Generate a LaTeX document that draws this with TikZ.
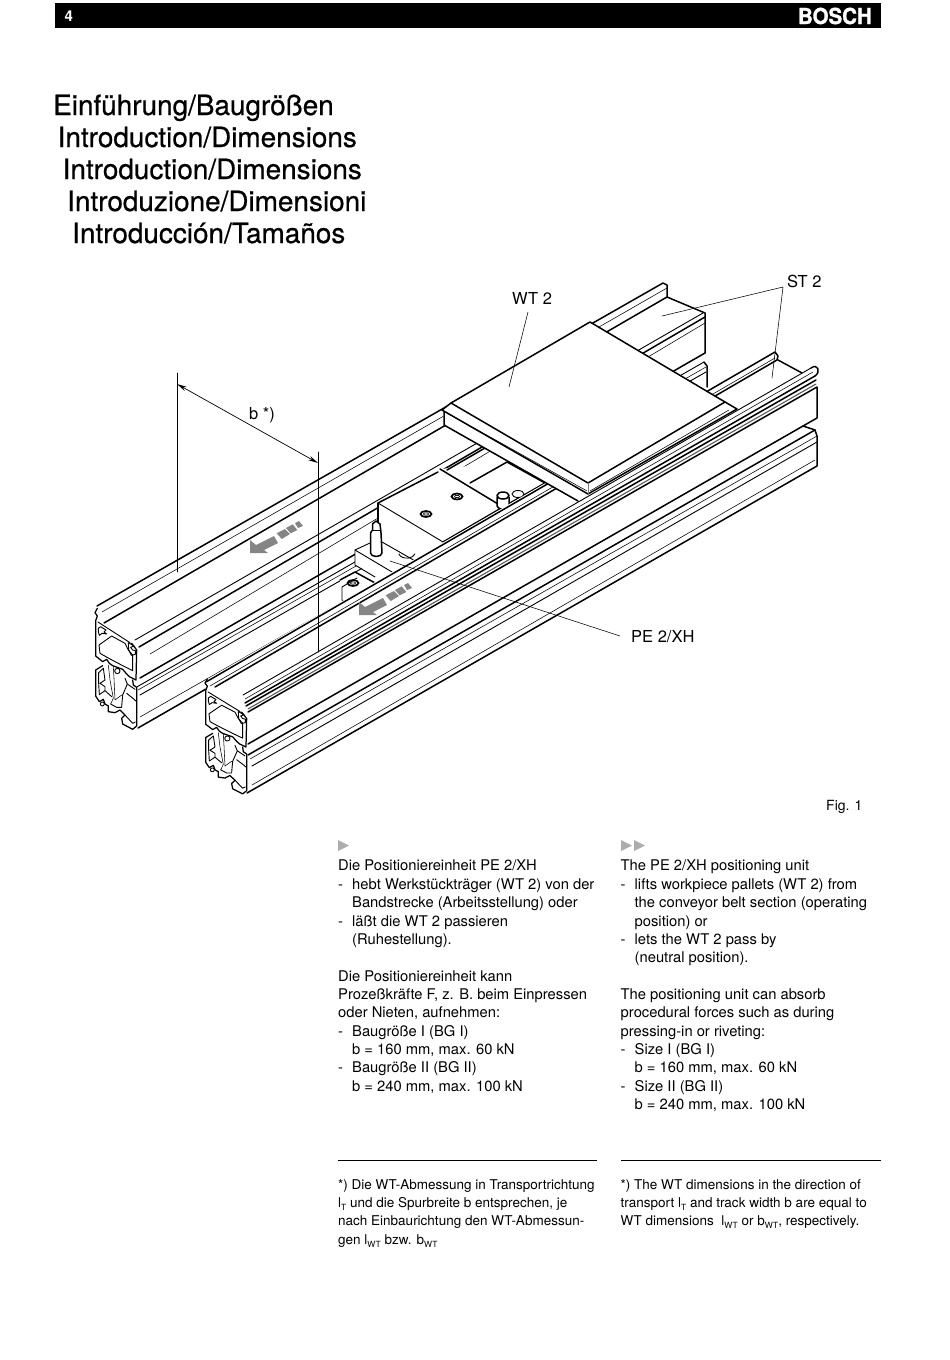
\documentclass[tikz,border=0pt]{standalone}
\usepackage{fontspec}
\usetikzlibrary{arrows.meta}
\setmainfont{TeX Gyre Heros}
\newfontfamily\titlefont[FakeBold=0.6]{TeX Gyre Heros}
\newfontfamily\brandfont[FakeBold=1.4,FakeStretch=0.93]{TeX Gyre Heros Bold}
\newcommand\bodyfont{\fontsize{14.75}{18.35}\selectfont}
\newcommand\notefont{\fontsize{13.5}{18.35}\selectfont}
\newcommand\ttl{\titlefont\fontsize{27.9}{32}\selectfont}
\newcommand\lab{\fontsize{16.5}{20}\selectfont}
\newcommand\dsh{\makebox[14pt][l]{-}}
\newcommand\ind{\hspace*{14pt}}
\newcommand\sbs[1]{\raisebox{-3pt}{\fontsize{8.5}{9}\selectfont #1}}
\tikzset{
 thick line/.style={line width=1.5pt,line join=round,line cap=round},
 prof line/.style={line width=1.25pt,line join=round,line cap=round},
 med line/.style={line width=0.9pt,line join=round,line cap=round},
 thin line/.style={line width=0.55pt,line join=round,line cap=round},
 textblock/.style={inner sep=0pt,anchor=north west,align=left,font=\bodyfont},
 noteblock/.style={inner sep=0pt,anchor=north west,align=left,font=\notefont},
 labelnode/.style={inner sep=0pt,anchor=base west,font=\lab},
 titlenode/.style={inner sep=0pt,anchor=base west,font=\ttl},
}
\newcommand\profile{%
 % upper block
 \fill[white] (17,30)--(17,168)--(38,185)--(140,242)--(140,145)--(28,62)--cycle;
 \fill[white] (17,210)--(17,290)--(98,372)--(128,388)--(140,378)--(140,240)--(40,190)--cycle;
 \draw[prof line] (22,25)--(15,38)--(22,48)--(17,62)--(17,168)--(38,185)--(50,178)--(58,190)--(68,197)--(98,208)--(110,222)--(118,230)--(138,240)--(140,150)--(125,130);
 \draw[med line] (24,66)--(120,128);
 \draw[med line] (25,85)--(32,80)--(48,90)--(42,96)--(50,102)--(36,100)--(28,106)--(25,95)--cycle;
 \draw[med line] (115,128)--(132,138)--(122,142)--(128,150)--(136,152)--(136,163)--(124,166)--(116,150)--cycle;
 \draw[med line] (27,135)--(65,108)--(105,130)--(115,150)--(128,165)--(128,212)--(100,198)--(62,178)--(30,160)--cycle;
 % lower block
 \draw[prof line] (38,197)--(17,210)--(17,288)--(28,305)--(40,298)--(45,312)--(55,318)--(55,335)--(75,338)--(90,330)--(105,345)--(95,355)--(98,372)--(128,388)--(140,378)--(140,262)--(130,255)--(128,240);
 \draw[med line] (40,205)--(45,240)--(30,250)--(45,260)--(45,272)--(28,284)--(26,250)--(26,218)--cycle;
 \draw[med line] (105,235)--(112,252)--(98,285)--(95,320);
 \draw[thin line] (55,195)--(60,240)--(70,295)--(62,312);
 \draw[thin line] (70,200)--(72,235)--(75,300)--(95,285);
 \draw[med line] (82,213) circle[radius=8];
 \draw[med line] (37,312) circle[radius=6];
 \draw[med line] (110,280)--(130,296)--(140,305);
 \draw[med line] (105,345)--(128,370)--(136,366);
 \draw[med line] (62,312)--(80,322)--(95,322);
 \draw[med line] (45,272)--(65,290);
 \draw[med line] (112,252)--(135,268);
}
\newcommand\flowarrow{%
 \fill[arrowgray] (0,0)--(0,-13)--(6,-8)--(24,-17)--(28,-10)--(14,-3)--(18,0)--cycle;
 \fill[arrowgray] (26.7,-19.7)--(35,-24)--(40,-19)--(31.7,-14)--cycle;
 \fill[arrowgray] (36,-25)--(42.7,-28.7)--(47.3,-23)--(40.7,-19.7)--cycle;
 \fill[arrowgray] (45,-30)--(49,-32)--(53,-27)--(48,-25)--cycle;
}
\definecolor{arrowgray}{gray}{0.52}
\definecolor{markgray}{gray}{0.68}
\begin{document}
\begin{tikzpicture}[x=1pt,y=-1pt]
\useasboundingbox (0,0) rectangle (950,1360);
\fill[white] (0,0) rectangle (950,1360);
% header
\fill[black] (55,3) rectangle (881,28);
\node[inner sep=0pt,anchor=base west,text=white,font=\bfseries\fontsize{15}{15}\selectfont] (pagenum) at (64.5,21) {4};
\node[inner sep=0pt,anchor=base east,text=white,font=\brandfont\fontsize{22}{22}\selectfont] (brand) at (872,24) {BOSCH};
% titles
\node[titlenode] (t1) at (53,115) {Einführung/Baugrößen};
\node[titlenode] (t2) at (57.5,147) {Introduction/Dimensions};
\node[titlenode] (t3) at (62.5,179) {Introduction/Dimensions};
\node[titlenode] (t4) at (67,211) {Introduzione/Dimensioni};
\node[titlenode] (t5) at (72,243) {Introducción/Tamaños};

% === left rail (continues behind the plate to the far end) ===
\draw[thick line] (97,606)--(663,283)--(667,285)--(667,297)--(705,313)--(705,353);
\draw[thin line] (102,612)--(667,288);
\draw[thick line] (104,623)--(667,297);
\draw[med line] (135,640)--(703,313);
\draw[thick line] (139,647)--(705,317);
\draw[thin line] (150,654)--(705,323);
\draw[thick line] (140,678)--(705,353);
\draw[med line] (135,688)--(704,362);
\draw[thin line] (138,690)--(706,367);
\draw[med line] (140,695)--(706,372);
\draw[thick line] (704,362)--(707,366)--(707,387);
\draw[thin line] (140,717)--(340,603);
\draw[thick line] (138,728)--(340,612);
\begin{scope}[shift={(90,600)},x=0.3333pt,y=-0.3333pt]
 \profile
\end{scope}

% === positioning unit ===
\fill[white] (378,503)--(440,469)--(507,462)--(578,500)--(500,540)--(392,584)--(355,565)--(355,550)--(370,542)--(378,520)--cycle;
\fill[white] (340,580)--(355,572)--(378,585)--(360,610)--(342,600)--cycle;
\draw[thick line] (447,470)--(485,448);
\draw[thick line] (470,483)--(507,462)--(545,483);
\draw[thick line] (503,507)--(545,483);
\draw[thick line] (440,469)--(503,507);
\draw[thick line] (443,542)--(503,507);
\draw[thick line] (438,472)--(378,503);
\draw[med line] (378,503)--(443,542);
\draw[thick line] (378,503)--(378,522);
\draw[med line] (370,543)--(355,550)--(355,565)--(375,577);
\draw[med line] (355,550)--(392,572);
\draw[med line] (382,542)--(417,562);
\draw[med line] (399,554) arc[start angle=170,end angle=10,x radius=8,y radius=5];
\draw[thick line] (340,580)--(355,572)--(377,584);
\draw[med line] (357,578)--(342,587)--(342,600)--(352,606);
% pin
\draw[thick line,fill=white] (370.5,553)--(370.5,533)--(372.5,530)--(372.5,524)--(376,521)--(380,524)--(381,533)--(382,553) arc[start angle=0,end angle=180,x radius=5.75,y radius=3.5];
\draw[med line] (373,530)--(381,530);
% round pins
\draw[thick line,fill=white] (497,497)--(497,506) arc[start angle=180,end angle=0,x radius=6,y radius=3]--(509,497);
\draw[thick line,fill=white] (503,495.5) ellipse[x radius=6,y radius=3.5];
\draw[med line,fill=white] (518,494) ellipse[x radius=6,y radius=3.5];
% bolts
\draw[line width=1.7pt] (457,496.5) ellipse[x radius=5.5,y radius=3];
\draw[line width=0.7pt] (457,496.5) ellipse[x radius=2.5,y radius=1.2];
\draw[line width=1.7pt] (426,514) ellipse[x radius=5.5,y radius=3];
\draw[line width=0.7pt] (426,514) ellipse[x radius=2.5,y radius=1.2];
\draw[line width=1.7pt] (353,583) ellipse[x radius=5.5,y radius=3];
\draw[line width=0.7pt] (353,583) ellipse[x radius=2.5,y radius=1.2];

% === front rail ===
\fill[white] (206,680)--(775,350)--(817,372)--(817,467)--(247,794)--(205,770)--cycle;
\draw[thick line] (206,682)--(775,352)--(778,356)--(777,360);
\draw[thin line] (210,686)--(775,358);
\draw[thick line] (215,687)--(777,360);
\draw[thick line] (778,360)--(802,373);
\draw[med line] (243,695)--(811,368);
\draw[thin line] (245,699)--(813,372);
\draw[thick line] (245,703)--(815,376);
\draw[thick line] (811,368) .. controls (818,363) and (821,372) .. (815,376);
\draw[thick line] (246,706)--(816,380);
\draw[line width=1.1pt,gray!70!black] (248,709)--(816,384);
\draw[thick line] (248,712)--(817,387)--(817,418)--(248,744);
\draw[thick line] (803,426)--(815,430)--(817,436)--(817,466)--(247,793);
\draw[thick line] (248,755)--(815,430);
\draw[thin line] (250,759)--(817,436);
\draw[med line] (252,766)--(817,442);
\draw[thin line] (252,785)--(815,460);
\begin{scope}[shift={(200,671)},x=0.3333pt,y=-0.3167pt]
 \profile
\end{scope}

% === pallet plate ===
\fill[white] (442,410)--(451,402)--(590,322)--(725,402)--(737,409)--(588,494)--(578,501)--(445,425)--cycle;
\draw[thick line] (442,410)--(451,403)--(590,322)--(725,402)--(737,409);
\draw[thick line] (451,403)--(588,483)--(725,402);
\draw[thick line] (442,410)--(588,494)--(737,409);
\draw[thin line] (447,413)--(587,491);
\draw[thin line] (590,491)--(729,410);
\draw[thin line,gray] (588,483)--(588,494);
\draw[thick line] (444,412)--(444,425)--(578,501);

% gray flow arrows
\begin{scope}[shift={(250,553)}]\flowarrow\end{scope}
\begin{scope}[shift={(359,615)}]\flowarrow\end{scope}

% dimension and leaders
\coordinate (bL) at (177,373); \coordinate (bLe) at (177,572);
\coordinate (bR) at (318,452); \coordinate (bRe) at (318,652);
\draw[thin line] (bL)--(bLe);
\draw[thin line] (bR)--(bRe);
\coordinate (dimL) at (177,384); \coordinate (dimR) at (318,463);
\draw[line width=0.7pt,{Stealth[length=10pt,width=4.5pt]}-{Stealth[length=10pt,width=4.5pt]}] (dimL)--(dimR);
\node[labelnode] (blab) at (249,419) {b *)};
\node[labelnode] (wt) at (512,304.5) {WT 2};
\node[labelnode] (st) at (787,287.5) {ST 2};
\node[labelnode] (pe) at (631,642.5) {PE 2/XH};
\node[labelnode] (fig) at (826,810) {\fontsize{14}{16}\selectfont Fig. 1};
\coordinate (wtA) at (528,312); \coordinate (wtB) at (509,387);
\draw[thin line] (wtA)--(wtB);
\coordinate (stA) at (783,287); \coordinate (stB) at (662,316); \coordinate (stC) at (772,378);
\draw[thin line] (stB)--(stA)--(stC);
\coordinate (peA) at (620,636); \coordinate (peB) at (390,561);
\draw[thin line] (peA)--(peB);

% language marks
\fill[markgray] (338,840)--(349,845.5)--(338,851)--cycle;
\fill[markgray] (621,840)--(632,845.5)--(621,851)--cycle;
\fill[markgray] (634,840)--(645,845.5)--(634,851)--cycle;

% body text
\node[textblock] (de) at (338,860) {Die Positioniereinheit PE 2/XH\\
\dsh hebt Werkstückträger (WT 2) von der\\
\ind Bandstrecke (Arbeitsstellung) oder\\
\dsh läßt die WT 2 passieren\\
\ind (Ruhestellung).\\[18.35pt]
Die Positioniereinheit kann\\
Prozeßkräfte F, z. B. beim Einpressen\\
oder Nieten, aufnehmen:\\
\dsh Baugröße I (BG I)\\
\ind b = 160 mm, max. 60 kN\\
\dsh Baugröße II (BG II)\\
\ind b = 240 mm, max. 100 kN};
\node[textblock] (en) at (620.5,860) {The PE 2/XH positioning unit\\
\dsh lifts workpiece pallets (WT 2) from\\
\ind the conveyor belt section (operating\\
\ind position) or\\
\dsh lets the WT 2 pass by\\
\ind (neutral position).\\[18.35pt]
The positioning unit can absorb\\
procedural forces such as during\\
pressing-in or riveting:\\
\dsh Size I (BG I)\\
\ind b = 160 mm, max. 60 kN\\
\dsh Size II (BG II)\\
\ind b = 240 mm, max. 100 kN};
% rules
\draw[line width=0.7pt] (338,1160)--(597,1160);
\draw[line width=0.7pt] (621,1160)--(881,1160);
% footnotes
\node[noteblock] (fde) at (338,1179) {*) Die WT-Abmessung in Transportrichtung\\
l\sbs{T} und die Spurbreite b entsprechen, je\\
nach Einbaurichtung den WT-Abmessun-\\
gen l\sbs{WT} bzw. b\sbs{WT}};
\node[noteblock] (fen) at (620.5,1179) {*) The WT dimensions in the direction of\\
transport l\sbs{T} and track width b are equal to\\
WT dimensions\ \ l\sbs{WT} or b\sbs{WT}, respectively.};
\end{tikzpicture}
\end{document}
